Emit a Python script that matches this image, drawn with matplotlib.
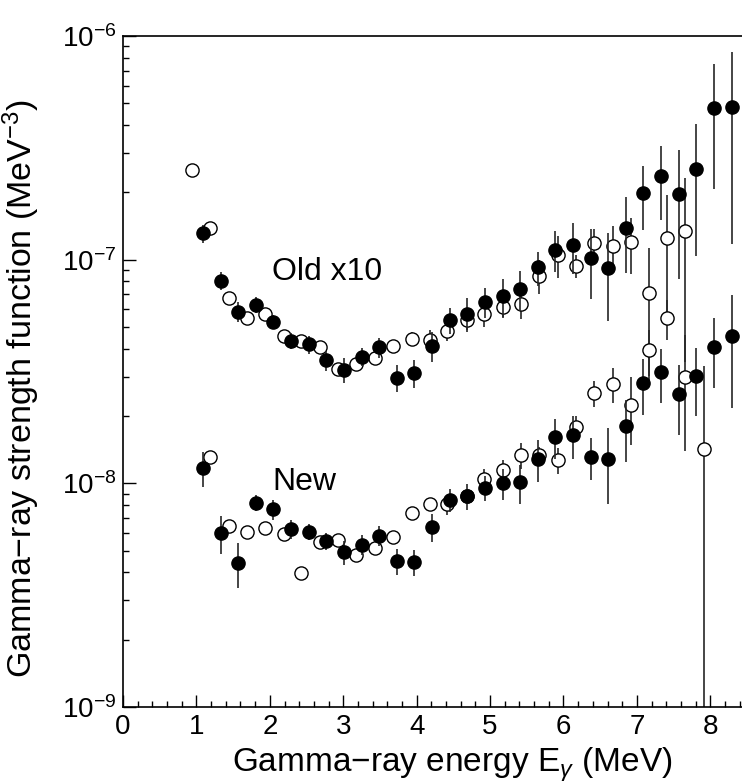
import numpy as np
import matplotlib

matplotlib.use('Agg')
import matplotlib.pyplot as plt
from matplotlib.ticker import LogLocator, MultipleLocator, NullFormatter

plt.rcParams['font.family'] = ['Liberation Sans', 'DejaVu Sans']
plt.rcParams['mathtext.fontset'] = 'custom'
plt.rcParams['mathtext.rm'] = 'Liberation Sans'
plt.rcParams['mathtext.it'] = 'Liberation Sans:italic'

# "Old x10" data, values in 1e-8 MeV^-3 (already scaled by 10)
old_filled_e = [1.09, 1.33, 1.57, 1.81, 2.05, 2.29, 2.53, 2.77, 3.01, 3.25, 3.49,
                3.73, 3.97, 4.21, 4.45, 4.69, 4.93, 5.17, 5.41, 5.65, 5.89, 6.13,
                6.37, 6.61, 6.85, 7.09, 7.33, 7.57, 7.81, 8.05, 8.29]
old_filled_f = [13.1, 8.05, 5.85, 6.3, 5.28, 4.33, 4.18, 3.55, 3.22, 3.67, 4.05,
                2.97, 3.11, 4.13, 5.35, 5.74, 6.49, 6.87, 7.42, 9.23, 11.1, 11.6,
                10.2, 9.2, 13.9, 19.9, 23.7, 19.6, 25.4, 47.7, 48.3]
old_filled_err = [1.2, 0.75, 0.6, 0.5, 0.38, 0.36, 0.39, 0.37, 0.4, 0.34, 0.42,
                  0.4, 0.45, 0.64, 0.72, 1.0, 1.0, 1.34, 1.5, 1.6, 2.3, 3.0,
                  3.5, 3.9, 5.2, 6.3, 8.6, 11.4, 15.0, 27.0, 36.6]

old_open_e = [0.94, 1.19, 1.44, 1.69, 1.94, 2.19, 2.43, 2.68, 2.93, 3.18, 3.43,
              3.68, 3.93, 4.18, 4.42, 4.68, 4.92, 5.17, 5.42, 5.67, 5.92, 6.17,
              6.42, 6.67, 6.92, 7.17, 7.41, 7.66]
old_open_f = [25.2, 13.8, 6.76, 5.49, 5.70, 4.56, 4.35, 4.07, 3.26, 3.41, 3.65,
              4.13, 4.43, 4.39, 4.82, 5.39, 5.71, 6.17, 6.33, 8.49, 10.5, 9.35,
              11.9, 11.5, 12.0, 7.06, 12.5, 13.4]
old_open_err = [1.0, 0.6, 0.3, 0.25, 0.25, 0.2, 0.2, 0.2, 0.2, 0.2, 0.2,
                0.2, 0.3, 0.45, 0.5, 0.55, 0.7, 0.7, 0.9, 1.5, 2.2, 1.1,
                1.8, 2.6, 3.4, 4.2, 6.9, 9.9]

# "New" data, values in 1e-9 MeV^-3
new_filled_e = old_filled_e
new_filled_f = [11.7, 5.98, 4.41, 8.2, 7.66, 6.24, 6.07, 5.52, 4.92, 5.32, 5.82,
                4.49, 4.46, 6.38, 8.41, 8.78, 9.57, 10.0, 10.1, 12.9, 16.1, 16.4,
                13.1, 12.9, 18.0, 28.1, 31.3, 25.1, 30.1, 40.6, 45.8]
new_filled_err = [2.1, 1.15, 1.0, 0.65, 0.8, 0.6, 0.5, 0.5, 0.6, 0.55, 0.6,
                  0.6, 0.6, 0.9, 1.0, 1.2, 1.2, 1.6, 2.0, 2.8, 3.2, 3.5,
                  2.8, 4.8, 5.6, 7.8, 8.5, 8.6, 10.0, 14.0, 24.0]

new_open_e = [1.19, 1.44, 1.69, 1.94, 2.19, 2.43, 2.68, 2.93, 3.18, 3.43, 3.68,
              3.93, 4.18, 4.42, 4.68, 4.92, 5.17, 5.42, 5.67, 5.92, 6.17, 6.42,
              6.67, 6.92, 7.17, 7.41, 7.66, 7.91]
new_open_f = [13.1, 6.45, 6.07, 6.29, 5.94, 3.99, 5.47, 5.58, 4.77, 5.13, 5.78,
              7.40, 8.11, 8.05, 8.78, 10.5, 11.5, 13.4, 13.4, 12.7, 17.8, 25.3,
              27.8, 22.3, 39.3, 54.7, 29.9, 14.3]
new_open_err = [0.6, 0.3, 0.3, 0.3, 0.3, 0.2, 0.3, 0.3, 0.25, 0.25, 0.3,
                0.4, 0.5, 0.8, 0.7, 1.1, 1.2, 1.8, 1.1, 1.7, 2.2, 3.4,
                5.0, 7.5, 9.0, 11.0, 16.0, 19.3]

fig = plt.figure(figsize=(7.42, 7.83), dpi=100)
ax = fig.add_axes([123 / 742, 76 / 783, 624 / 742, 671 / 783])
ax.set_yscale('log', nonpositive='clip')

err_style = dict(fmt='o', ms=9.5, ecolor='0.15', elinewidth=1.2, capsize=0, mec='black', mew=1.0)

# open circles first, filled on top
ax.errorbar(old_open_e, np.array(old_open_f) * 1e-8, yerr=np.array(old_open_err) * 1e-8,
            mfc='white', zorder=2, **err_style)
ax.errorbar(new_open_e, np.array(new_open_f) * 1e-9, yerr=np.array(new_open_err) * 1e-9,
            mfc='white', zorder=2, **err_style)
ax.errorbar(old_filled_e, np.array(old_filled_f) * 1e-8, yerr=np.array(old_filled_err) * 1e-8,
            mfc='black', zorder=3, **err_style)
ax.errorbar(new_filled_e, np.array(new_filled_f) * 1e-9, yerr=np.array(new_filled_err) * 1e-9,
            mfc='black', zorder=3, **err_style)

ax.text(2.03, 10 ** -7.089, 'Old x10', fontsize=23, va='baseline', ha='left')
ax.text(2.03, 10 ** -8.031, 'New', fontsize=23, va='baseline', ha='left')

ax.set_xlim(0, 8.5)
ax.set_ylim(1e-9, 1e-6)

ax.xaxis.set_major_locator(MultipleLocator(1))
ax.xaxis.set_minor_locator(MultipleLocator(0.2))
ax.yaxis.set_major_locator(LogLocator(base=10))
ax.yaxis.set_minor_locator(LogLocator(base=10, subs=np.arange(2, 10)))
ax.yaxis.set_minor_formatter(NullFormatter())

ax.tick_params(which='both', direction='in', top=False, right=False, width=1.0)
ax.tick_params(which='major', length=9, labelsize=20, pad=5)
ax.tick_params(which='minor', length=4.5)
for sp in ax.spines.values():
    sp.set_linewidth(1.2)

ax.set_xlabel('Gamma\u2212ray energy E$_\\gamma$ (MeV)', fontsize=24)
ax.set_ylabel('Gamma\u2212ray strength function (MeV$^{\u22123}$)', fontsize=24.5)
ax.xaxis.set_label_coords(0.527, -0.058)
ax.yaxis.set_label_coords(-0.13, 0.475)

fig.savefig('out.png', dpi=100)
